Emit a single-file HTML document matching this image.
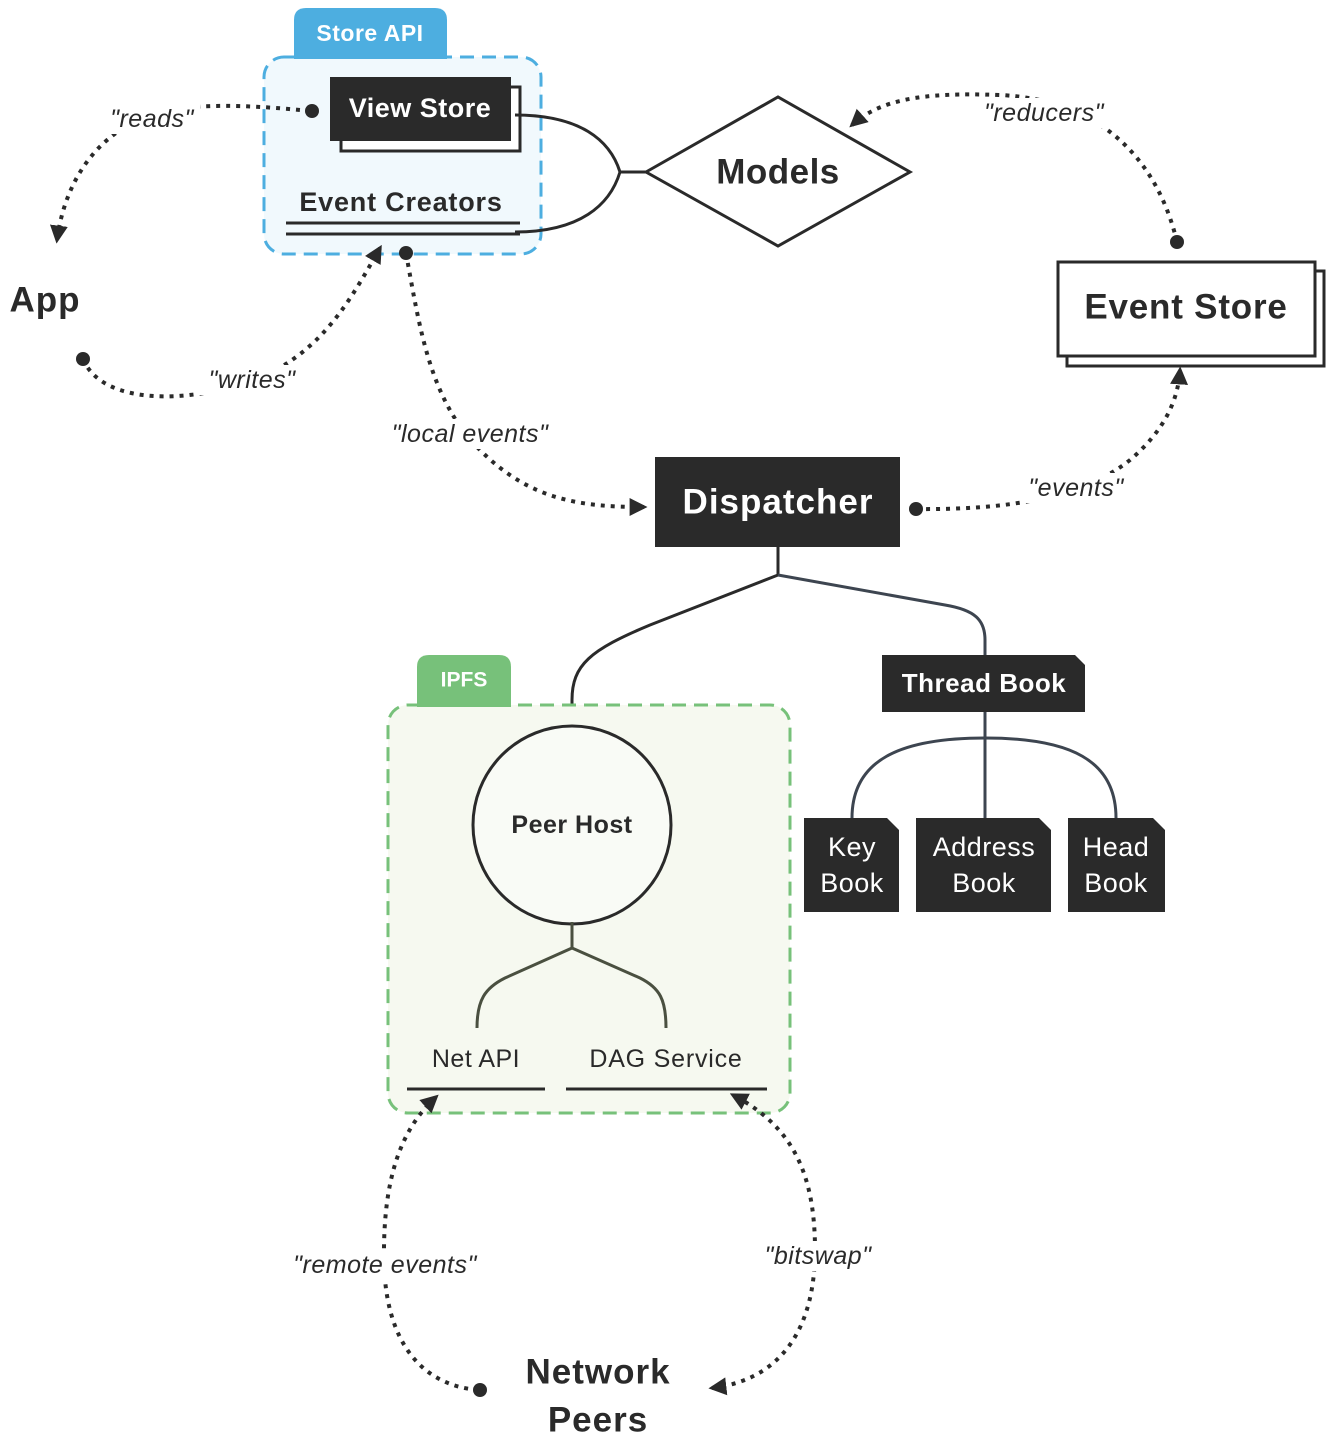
<!DOCTYPE html>
<html><head><meta charset="utf-8"><style>
html,body{margin:0;padding:0;background:#fff}
svg{display:block}
text{font-family:"Liberation Sans",sans-serif;dominant-baseline:central;text-anchor:middle}
.b{font-weight:bold}
.i{font-style:italic;font-size:25px;fill:#2a2a2a;letter-spacing:0.5px}
.dot{fill:none;stroke:#2a2a2a;stroke-width:4;stroke-dasharray:4 6}
</style></head><body>
<svg width="1332" height="1440" viewBox="0 0 1332 1440" xmlns="http://www.w3.org/2000/svg">
<defs>
<marker id="ar" viewBox="0 0 10 10" refX="8" refY="5" markerWidth="4.5" markerHeight="4.5" orient="auto-start-reverse" markerUnits="strokeWidth"><path d="M0,0 L10,5 L0,10 Z" fill="#2a2a2a"/></marker>
</defs>

<!-- Store API -->
<rect x="264" y="57" width="277" height="197" rx="20" fill="#F1F9FD" stroke="#4DAEE0" stroke-width="3" stroke-dasharray="14 8"/>
<path d="M294,59 L294,20 Q294,8 306,8 L435,8 Q447,8 447,20 L447,59 Z" fill="#4DAEE0"/>
<text x="370" y="33" class="b" font-size="23" fill="#fff" letter-spacing="0.5">Store API</text>
<rect x="341" y="87" width="179" height="64" fill="#fff" stroke="#2a2a2a" stroke-width="3"/>
<rect x="330" y="77" width="181" height="64" fill="#2a2a2a"/>
<text x="420" y="108" class="b" font-size="27" fill="#fff" letter-spacing="0.5">View Store</text>
<text x="401" y="202" class="b" font-size="27" fill="#2a2a2a" letter-spacing="0.8">Event Creators</text>
<line x1="286" y1="223" x2="520" y2="223" stroke="#2a2a2a" stroke-width="3"/>
<line x1="286" y1="234" x2="520" y2="234" stroke="#2a2a2a" stroke-width="3"/>
<path d="M515,115 C580,115 610,140 620,172 C610,205 580,232 515,232" fill="none" stroke="#2a2a2a" stroke-width="3"/>
<line x1="620" y1="172" x2="648" y2="172" stroke="#2a2a2a" stroke-width="3"/>

<!-- Models -->
<polygon points="646,172 778,97 910,172 778,246" fill="#fff" stroke="#2a2a2a" stroke-width="3"/>
<text x="778" y="172" class="b" font-size="35" fill="#2a2a2a" letter-spacing="0.5">Models</text>

<!-- Event Store -->
<rect x="1067" y="271" width="257" height="95" fill="#fff" stroke="#2a2a2a" stroke-width="3"/>
<rect x="1058" y="262" width="257" height="94" fill="#fff" stroke="#2a2a2a" stroke-width="3"/>
<text x="1186" y="307" class="b" font-size="35" fill="#2a2a2a" letter-spacing="0.8">Event Store</text>

<!-- App -->
<text x="45" y="300" class="b" font-size="35" fill="#2a2a2a" letter-spacing="1">App</text>

<!-- Dispatcher -->
<rect x="655" y="457" width="245" height="90" fill="#2a2a2a"/>
<text x="778" y="502" class="b" font-size="35" fill="#fff" letter-spacing="1">Dispatcher</text>

<!-- tree lines from dispatcher -->
<path d="M778,547 L778,575 L650,625 C590,650 572,665 572,700 L572,727" fill="none" stroke="#2a2a2a" stroke-width="3"/>
<path d="M778,575 L945,605 C975,610 985,620 985,640 L985,656" fill="none" stroke="#3d4550" stroke-width="3"/>

<!-- Thread Book -->
<path d="M882,655 L1075,655 L1085,665 L1085,712 L882,712 Z" fill="#2a2a2a"/>
<text x="984" y="683" class="b" font-size="26" fill="#fff" letter-spacing="0.5">Thread Book</text>
<line x1="985" y1="712" x2="985" y2="818" stroke="#3d4550" stroke-width="3"/>
<path d="M852,818 C852,760 900,738 985,738 C1070,738 1116,760 1116,818" fill="none" stroke="#3d4550" stroke-width="3"/>
<path d="M804,818 L887,818 L899,830 L899,912 L804,912 Z" fill="#2a2a2a"/>
<path d="M916,818 L1039,818 L1051,830 L1051,912 L916,912 Z" fill="#2a2a2a"/>
<path d="M1068,818 L1153,818 L1165,830 L1165,912 L1068,912 Z" fill="#2a2a2a"/>
<g font-size="27" fill="#fff" letter-spacing="0.5">
<text x="852" y="847">Key</text><text x="852" y="883">Book</text>
<text x="984" y="847">Address</text><text x="984" y="883">Book</text>
<text x="1116" y="847">Head</text><text x="1116" y="883">Book</text>
</g>

<!-- IPFS -->
<rect x="388" y="705" width="402" height="408" rx="20" fill="#F6F9F0" stroke="#77C17A" stroke-width="3" stroke-dasharray="14 8"/>
<path d="M417,707 L417,667 Q417,655 429,655 L499,655 Q511,655 511,667 L511,707 Z" fill="#77C17A"/>
<text x="464" y="680" class="b" font-size="21" fill="#fff">IPFS</text>
<circle cx="572" cy="825" r="99" fill="#fff" fill-opacity="0.4" stroke="#2a2a2a" stroke-width="3"/>
<text x="572" y="825" class="b" font-size="25" fill="#2a2a2a" letter-spacing="0.5">Peer Host</text>
<path d="M572,922 L572,948 L505,978 C485,988 477,1000 477,1028" fill="none" stroke="#4a5040" stroke-width="3"/>
<path d="M572,948 L640,978 C660,988 666,1000 666,1028" fill="none" stroke="#4a5040" stroke-width="3"/>
<text x="476" y="1059" font-size="25" fill="#2a2a2a" letter-spacing="0.5">Net API</text>
<text x="666" y="1059" font-size="25" fill="#2a2a2a" letter-spacing="0.8">DAG Service</text>
<line x1="407" y1="1089" x2="545" y2="1089" stroke="#2a2a2a" stroke-width="3"/>
<line x1="566" y1="1089" x2="767" y2="1089" stroke="#2a2a2a" stroke-width="3"/>

<!-- Network Peers -->
<text x="598" y="1372" class="b" font-size="35" fill="#2a2a2a" letter-spacing="1">Network</text>
<text x="598" y="1420" class="b" font-size="35" fill="#2a2a2a" letter-spacing="1">Peers</text>

<!-- dotted connectors -->
<path class="dot" d="M310,111 C260,106 220,104 180,108 C100,120 65,180 57,240" marker-end="url(#ar)"/>
<circle cx="312" cy="111" r="7" fill="#2a2a2a"/>
<path class="dot" d="M83,359 C100,400 170,405 240,385 C320,360 350,300 380,248" marker-end="url(#ar)"/>
<circle cx="83" cy="359" r="7" fill="#2a2a2a"/>
<path class="dot" d="M406,253 C420,330 430,400 480,450 C530,500 580,507 644,507" marker-end="url(#ar)"/>
<circle cx="406" cy="253" r="7" fill="#2a2a2a"/>
<path class="dot" d="M1177,242 C1160,170 1110,100 1000,95 C920,92 880,100 852,125" marker-end="url(#ar)"/>
<circle cx="1177" cy="242" r="7" fill="#2a2a2a"/>
<path class="dot" d="M916,509 C1000,510 1080,500 1130,460 C1165,430 1178,400 1180,370" marker-end="url(#ar)"/>
<circle cx="916" cy="509" r="7" fill="#2a2a2a"/>
<path class="dot" d="M478,1390 C420,1385 385,1340 384,1260 C383,1180 400,1130 436,1097" marker-end="url(#ar)"/>
<circle cx="480" cy="1390" r="7" fill="#2a2a2a"/>
<path class="dot" d="M712,1388 C780,1380 815,1330 815,1250 C815,1170 790,1125 733,1095" marker-start="url(#ar)" marker-end="url(#ar)"/>

<!-- labels with white backing -->
<g>
<rect x="102" y="104" width="98" height="30" fill="#fff"/><text x="152" y="119" class="i">"reads"</text>
<rect x="198" y="365" width="108" height="30" fill="#fff"/><text x="252" y="380" class="i">"writes"</text>
<rect x="374" y="419" width="192" height="30" fill="#fff"/><text x="470" y="434" class="i">"local events"</text>
<rect x="972" y="98" width="144" height="30" fill="#fff"/><text x="1044" y="113" class="i">"reducers"</text>
<rect x="1020" y="473" width="112" height="30" fill="#fff"/><text x="1076" y="488" class="i">"events"</text>
<rect x="272" y="1250" width="226" height="30" fill="#fff"/><text x="385" y="1265" class="i">"remote events"</text>
<rect x="750" y="1241" width="136" height="30" fill="#fff"/><text x="818" y="1256" class="i">"bitswap"</text>
</g>
</svg>
</body></html>
